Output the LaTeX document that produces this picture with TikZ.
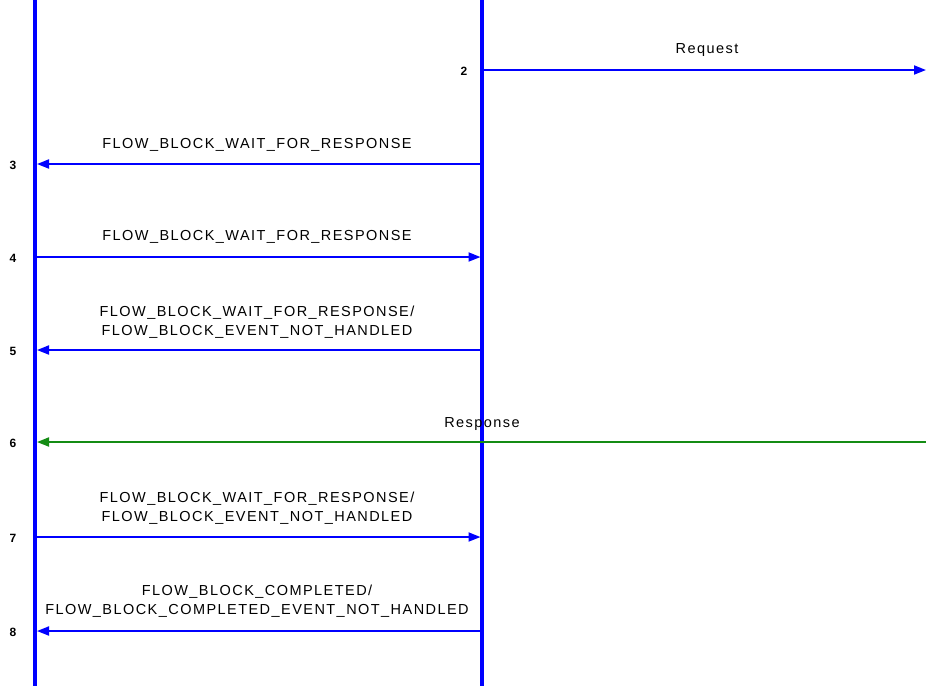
\documentclass[tikz,border=0pt]{standalone}
\usepackage{fontspec}
\setmainfont{Liberation Sans}[LetterSpace=10]
\usetikzlibrary{arrows.meta}
\definecolor{lblue}{RGB}{0,0,255}
\definecolor{lgreen}{RGB}{20,140,20}
\tikzset{
  lifeline/.style={draw=lblue, line width=3.5pt},
  msg/.style={draw=lblue, line width=1.8pt, -{Triangle[length=12pt,width=9pt]}},
  resp/.style={draw=lgreen, line width=1.8pt, -{Triangle[length=12pt,width=9pt]}},
  lbl/.style={font=\fontsize{14.5}{19}\selectfont, align=center, inner sep=0pt},
  num/.style={font=\fontsize{12}{13}\selectfont\bfseries, inner sep=0pt}
}
\begin{document}
\begin{tikzpicture}[x=1pt,y=-1pt]
\useasboundingbox (0,0) rectangle (926,686);
% lifelines
\coordinate (Atop) at (35,0);
\coordinate (Abot) at (35,686);
\coordinate (Btop) at (482,0);
\coordinate (Bbot) at (482,686);
\draw[lifeline] (Atop) -- (Abot);
\draw[lifeline] (Btop) -- (Bbot);
% anchor points
\coordinate (B2) at (483.5,70);
\coordinate (E2) at (926,70);
\coordinate (A3) at (37,164);
\coordinate (B3) at (480.5,164);
\coordinate (A4) at (37,257);
\coordinate (B4) at (480.5,257);
\coordinate (A5) at (37,350);
\coordinate (B5) at (480.5,350);
\coordinate (A6) at (37,442);
\coordinate (E6) at (926,442);
\coordinate (A7) at (37,537);
\coordinate (B7) at (480.5,537);
\coordinate (A8) at (37,631);
\coordinate (B8) at (480.5,631);
% messages
\draw[msg] (B2) -- (E2);
\draw[msg] (B3) -- (A3);
\draw[msg] (A4) -- (B4);
\draw[msg] (B5) -- (A5);
\draw[resp] (E6) -- (A6);
\draw[msg] (A7) -- (B7);
\draw[msg] (B8) -- (A8);
% labels
\node[lbl] (t2) at (707,50) {Request};
\node[lbl] (t3) at (257,145) {FLOW\_BLOCK\_WAIT\_FOR\_RESPONSE};
\node[lbl] (t4) at (257,237) {FLOW\_BLOCK\_WAIT\_FOR\_RESPONSE};
\node[lbl] (t5) at (257,322) {FLOW\_BLOCK\_WAIT\_FOR\_RESPONSE/\\FLOW\_BLOCK\_EVENT\_NOT\_HANDLED};
\node[lbl] (t6) at (482,424) {Response};
\node[lbl] (t7) at (257,508) {FLOW\_BLOCK\_WAIT\_FOR\_RESPONSE/\\FLOW\_BLOCK\_EVENT\_NOT\_HANDLED};
\node[lbl] (t8) at (257,601) {FLOW\_BLOCK\_COMPLETED/\\FLOW\_BLOCK\_COMPLETED\_EVENT\_NOT\_HANDLED};
% numbers
\node[num] (n2) at (464,71) {2};
\node[num] (n3) at (13,165) {3};
\node[num] (n4) at (13,258) {4};
\node[num] (n5) at (13,351) {5};
\node[num] (n6) at (13,443) {6};
\node[num] (n7) at (13,538) {7};
\node[num] (n8) at (13,632) {8};
\end{tikzpicture}
\end{document}
